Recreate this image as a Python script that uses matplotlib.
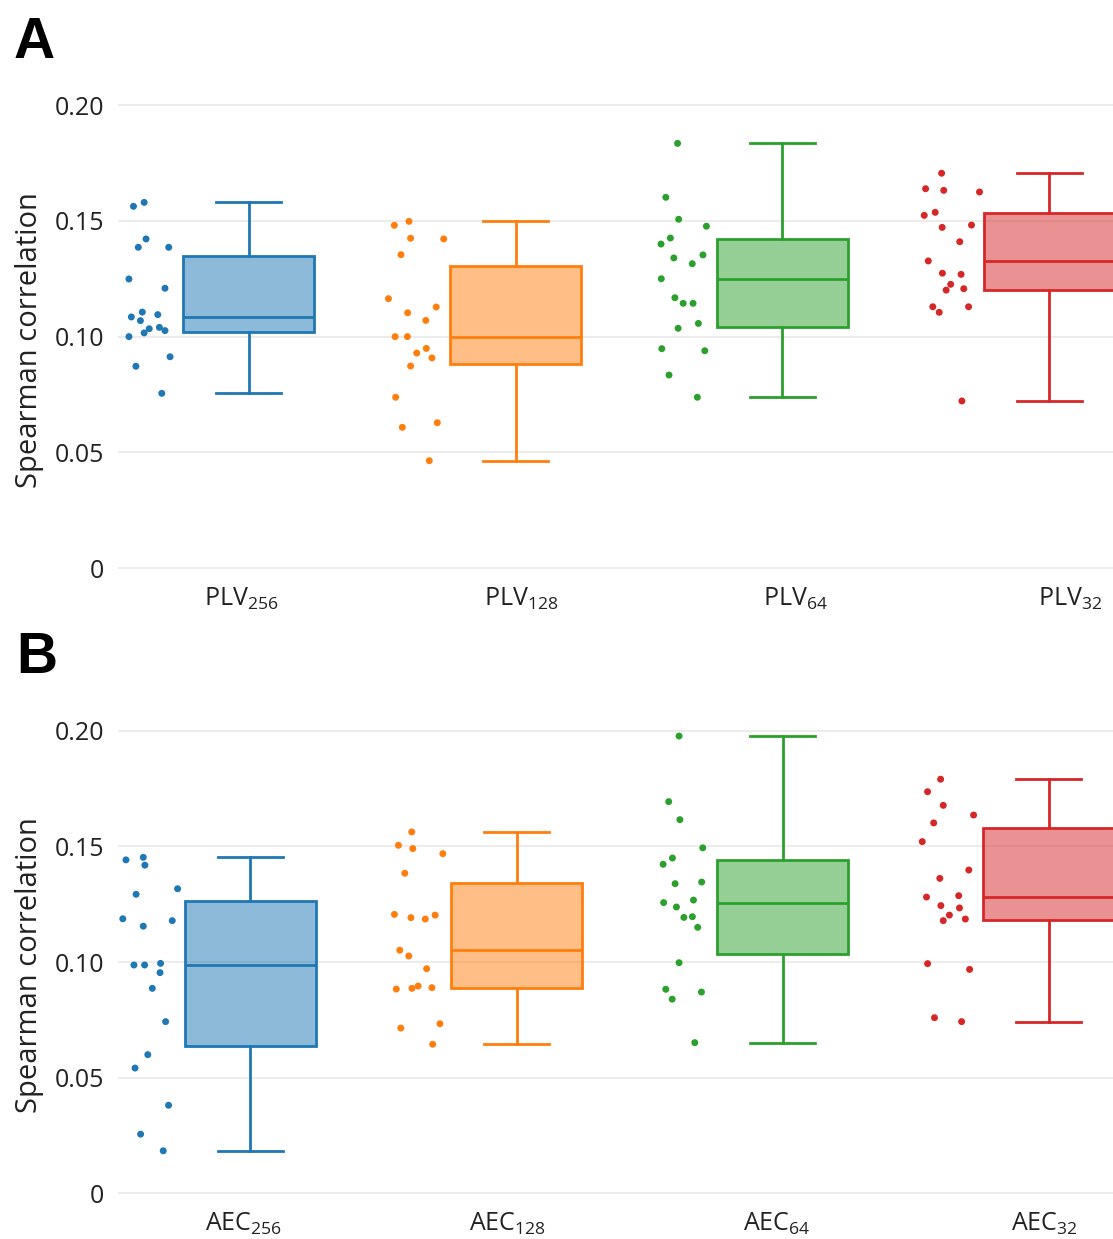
import matplotlib
matplotlib.use('Agg')
import matplotlib.pyplot as plt
from matplotlib.colors import to_rgba

plt.rcParams['font.family'] = ['Open Sans', 'DejaVu Sans']
plt.rcParams['mathtext.fontset'] = 'custom'
plt.rcParams['mathtext.rm'] = 'Open Sans'
plt.rcParams['mathtext.it'] = 'Open Sans'
plt.rcParams['mathtext.bf'] = 'Open Sans'

# ---------------- data ----------------
labels_A = [r'PLV$_{256}$', r'PLV$_{128}$', r'PLV$_{64}$', r'PLV$_{32}$']
labels_B = [r'AEC$_{256}$', r'AEC$_{128}$', r'AEC$_{64}$', r'AEC$_{32}$']
colors = ['#1f77b4', '#ff7f0e', '#2ca02c', '#d62728']

plv256 = [0.1563, 0.1580, 0.1422, 0.1386, 0.1386, 0.1249, 0.1209, 0.1106, 0.1085, 0.1095,
          0.1069, 0.1034, 0.1040, 0.1026, 0.1016, 0.1000, 0.0913, 0.0872, 0.0755]
plv128 = [0.1481, 0.1498, 0.1425, 0.1422, 0.1354, 0.1164, 0.1128, 0.1103, 0.1070, 0.1000,
          0.1000, 0.0949, 0.0929, 0.0908, 0.0873, 0.0738, 0.0608, 0.0628, 0.0464]
plv64 = [0.1835, 0.1602, 0.1507, 0.1477, 0.1426, 0.1400, 0.1353, 0.1340, 0.1315, 0.1250,
         0.1168, 0.1144, 0.1144, 0.1057, 0.1036, 0.0948, 0.0939, 0.0834, 0.0738]
plv32 = [0.1706, 0.1639, 0.1632, 0.1625, 0.1524, 0.1537, 0.1472, 0.1482, 0.1410, 0.1327,
         0.1274, 0.1269, 0.1226, 0.1201, 0.1207, 0.1129, 0.1105, 0.1129, 0.0722]

aec256 = [0.1442, 0.1453, 0.1419, 0.1293, 0.1317, 0.1187, 0.1155, 0.1179, 0.0987, 0.0987,
          0.0994, 0.0954, 0.0886, 0.0742, 0.0599, 0.0541, 0.0380, 0.0255, 0.0183]
aec128 = [0.1563, 0.1505, 0.1491, 0.1469, 0.1384, 0.1206, 0.1192, 0.1186, 0.1203, 0.1051,
          0.1026, 0.0971, 0.0883, 0.0886, 0.0896, 0.0889, 0.0714, 0.0733, 0.0644]
aec64 = [0.1978, 0.1694, 0.1616, 0.1494, 0.1450, 0.1423, 0.1339, 0.1346, 0.1257, 0.1238,
         0.1268, 0.1193, 0.1196, 0.1150, 0.0997, 0.0882, 0.0870, 0.0839, 0.0651]
aec32 = [0.1791, 0.1737, 0.1678, 0.1636, 0.1602, 0.1521, 0.1398, 0.1362, 0.1281, 0.1287,
         0.1244, 0.1234, 0.1203, 0.1179, 0.1186, 0.0993, 0.0968, 0.0759, 0.0742]

# horizontal offsets of the points (in category units)
jit_plv256 = [-0.431, -0.391, -0.384, -0.413, -0.299, -0.448, -0.313, -0.398, -0.439, -0.340,
              -0.405, -0.372, -0.334, -0.313, -0.391, -0.448, -0.294, -0.422, -0.325]
jit_plv128 = [-0.454, -0.399, -0.393, -0.269, -0.429, -0.476, -0.297, -0.404, -0.336, -0.451,
              -0.405, -0.334, -0.370, -0.313, -0.393, -0.449, -0.424, -0.293, -0.323]
jit_plv64 = [-0.393, -0.437, -0.389, -0.285, -0.420, -0.455, -0.298, -0.407, -0.338, -0.454,
             -0.403, -0.372, -0.335, -0.315, -0.391, -0.452, -0.291, -0.425, -0.319]
jit_plv32 = [-0.404, -0.464, -0.396, -0.262, -0.469, -0.428, -0.402, -0.292, -0.336, -0.454,
             -0.401, -0.331, -0.370, -0.387, -0.321, -0.437, -0.413, -0.303, -0.328]
jit_aec256 = [-0.468, -0.403, -0.397, -0.430, -0.274, -0.480, -0.403, -0.294, -0.438, -0.398,
              -0.338, -0.340, -0.369, -0.319, -0.386, -0.434, -0.308, -0.413, -0.328]
jit_aec128 = [-0.394, -0.444, -0.390, -0.277, -0.420, -0.459, -0.397, -0.343, -0.306, -0.439,
              -0.405, -0.338, -0.452, -0.393, -0.370, -0.318, -0.435, -0.288, -0.315]
jit_aec64 = [-0.389, -0.428, -0.386, -0.300, -0.414, -0.449, -0.404, -0.304, -0.447, -0.399,
             -0.335, -0.371, -0.339, -0.319, -0.389, -0.439, -0.305, -0.415, -0.330]
jit_aec32 = [-0.406, -0.455, -0.396, -0.282, -0.432, -0.475, -0.300, -0.409, -0.459, -0.338,
             -0.405, -0.335, -0.373, -0.396, -0.313, -0.455, -0.297, -0.429, -0.327]

# box statistics as drawn
q1_A = [0.1019, 0.0880, 0.1040, 0.1201]
med_A = [0.1085, 0.1000, 0.1250, 0.1327]
q3_A = [0.1350, 0.1306, 0.1422, 0.1533]
lo_A = [0.0755, 0.0464, 0.0738, 0.0722]
hi_A = [0.1580, 0.1498, 0.1835, 0.1706]

q1_B = [0.0635, 0.0889, 0.1036, 0.1182]
med_B = [0.0987, 0.1051, 0.1255, 0.1281]
q3_B = [0.1265, 0.1341, 0.1442, 0.1580]
lo_B = [0.0183, 0.0644, 0.0651, 0.0742]
hi_B = [0.1453, 0.1563, 0.1978, 0.1791]

yticks = [0, 0.05, 0.10, 0.15, 0.20]
yticklabels = ['0', '0.05', '0.10', '0.15', '0.20']

W, H = 1113, 1239
fig = plt.figure(figsize=(W / 100, H / 100), dpi=100)


def px_axes(left, right, top, bottom):
    return fig.add_axes([left / W, 1 - bottom / H, (right - left) / W, (bottom - top) / H])


def panel(ax, series, jits, q1, med, q3, lo, hi, labels, tickpos, xlim, ylim):
    stats = []
    for i in range(4):
        stats.append(dict(med=med[i], q1=q1[i], q3=q3[i], whislo=lo[i], whishi=hi[i], fliers=[]))
    for i in range(4):
        c = colors[i]
        ax.bxp([stats[i]], positions=[i], widths=0.49, capwidths=0.245, patch_artist=True,
               showfliers=False, manage_ticks=False,
               boxprops=dict(facecolor=to_rgba(c, 0.5), edgecolor=c, linewidth=2),
               medianprops=dict(color=c, linewidth=2),
               whiskerprops=dict(color=c, linewidth=2),
               capprops=dict(color=c, linewidth=2))
        xs = [i + j for j in jits[i]]
        ax.scatter(xs, series[i], s=25, color=c, edgecolor='none', zorder=3)
    ax.set_xlim(*xlim)
    ax.set_ylim(*ylim)
    for s in ax.spines.values():
        s.set_visible(False)
    ax.set_yticks(yticks)
    ax.set_yticklabels(yticklabels)
    ax.yaxis.grid(True, color='#ebebeb', lw=1.3)
    ax.set_axisbelow(True)
    ax.tick_params(axis='y', length=0, pad=10, labelsize=18, labelcolor='#222222')
    ax.set_xticks(tickpos)
    ax.set_xticklabels(labels)
    ax.tick_params(axis='x', length=0, pad=8, labelsize=18, labelcolor='#222222')
    ax.set_ylabel('Spearman correlation', fontsize=21, color='#222222')
    ax.yaxis.set_label_coords(-0.074, 0.49)


axA = px_axes(118, 1113, 95, 575)
panel(axA, [plv256, plv128, plv64, plv32],
      [jit_plv256, jit_plv128, jit_plv64, jit_plv32],
      q1_A, med_A, q3_A, lo_A, hi_A, labels_A,
      [-0.028, 1.021, 2.047, 3.077], (-0.489, 3.238), (-0.003, 0.2044))

axB = px_axes(118, 1113, 721, 1200)
panel(axB, [aec256, aec128, aec64, aec32],
      [jit_aec256, jit_aec128, jit_aec64, jit_aec32],
      q1_B, med_B, q3_B, lo_B, hi_B, labels_B,
      [-0.028, 0.964, 1.976, 2.983], (-0.498, 3.242), (-0.003, 0.2043))

fig.text(14 / W, 1 - 16 / H, 'A', fontsize=41, fontweight='bold', family='Liberation Sans',
         ha='left', va='top')
fig.text(16 / W, 1 - 631 / H, 'B', fontsize=41, fontweight='bold', family='Liberation Sans',
         ha='left', va='top')

fig.savefig('out.png', dpi=100, facecolor='white')
